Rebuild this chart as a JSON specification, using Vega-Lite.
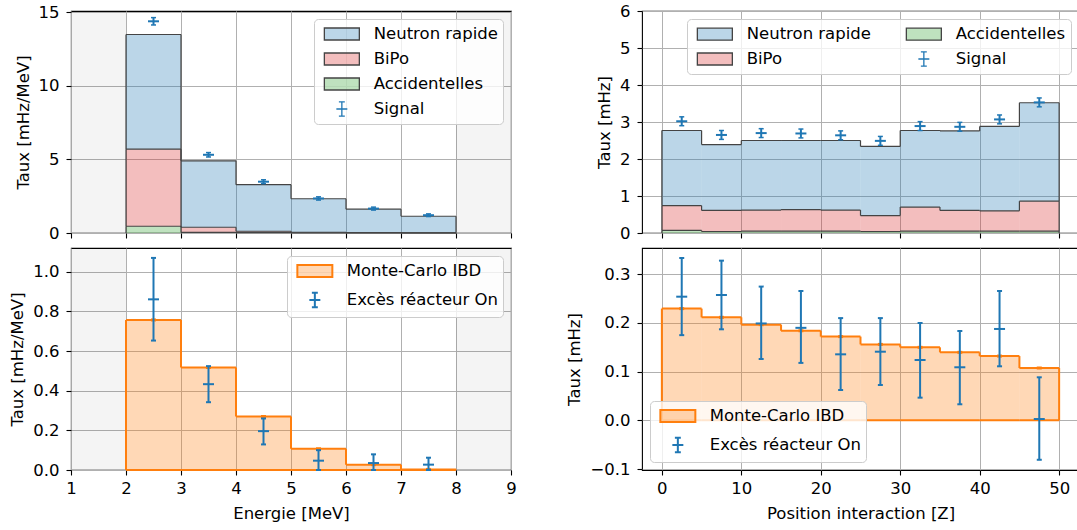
{
  "$schema": "https://vega.github.io/schema/vega-lite/v6.json",
  "background": "white",
  "padding": {"left": 9, "top": 2, "right": 0, "bottom": 0},
  "autosize": {"type": "pad"},
  "datasets": {
    "ltBars": [
      {"series": "Accidentelles", "lo": 2, "hi": 3, "value": 0.46},
      {"series": "BiPo", "lo": 2, "hi": 3, "value": 5.24},
      {"series": "Neutron rapide", "lo": 2, "hi": 3, "value": 7.8},
      {"series": "Accidentelles", "lo": 3, "hi": 4, "value": 0.04},
      {"series": "BiPo", "lo": 3, "hi": 4, "value": 0.35},
      {"series": "Neutron rapide", "lo": 3, "hi": 4, "value": 4.52},
      {"series": "Accidentelles", "lo": 4, "hi": 5, "value": 0.02},
      {"series": "BiPo", "lo": 4, "hi": 5, "value": 0.1},
      {"series": "Neutron rapide", "lo": 4, "hi": 5, "value": 3.17},
      {"series": "Accidentelles", "lo": 5, "hi": 6, "value": 0.01},
      {"series": "BiPo", "lo": 5, "hi": 6, "value": 0.04},
      {"series": "Neutron rapide", "lo": 5, "hi": 6, "value": 2.28},
      {"series": "Accidentelles", "lo": 6, "hi": 7, "value": 0.005},
      {"series": "BiPo", "lo": 6, "hi": 7, "value": 0.02},
      {"series": "Neutron rapide", "lo": 6, "hi": 7, "value": 1.595},
      {"series": "Accidentelles", "lo": 7, "hi": 8, "value": 0.005},
      {"series": "BiPo", "lo": 7, "hi": 8, "value": 0.01},
      {"series": "Neutron rapide", "lo": 7, "hi": 8, "value": 1.125}
    ],
    "ltSig": [
      {"series": "Signal", "E": 2.5, "v": 14.4, "vmin": 14.15, "vmax": 14.65},
      {"series": "Signal", "E": 3.5, "v": 5.32, "vmin": 5.17, "vmax": 5.47},
      {"series": "Signal", "E": 4.5, "v": 3.49, "vmin": 3.36, "vmax": 3.62},
      {"series": "Signal", "E": 5.5, "v": 2.35, "vmin": 2.24, "vmax": 2.46},
      {"series": "Signal", "E": 6.5, "v": 1.66, "vmin": 1.56, "vmax": 1.76},
      {"series": "Signal", "E": 7.5, "v": 1.21, "vmin": 1.12, "vmax": 1.3}
    ],
    "lbMC": [
      {"series": "Monte-Carlo IBD", "lo": 2, "hi": 3, "c": 2.5, "value": 0.757},
      {"series": "Monte-Carlo IBD", "lo": 3, "hi": 4, "c": 3.5, "value": 0.517},
      {"series": "Monte-Carlo IBD", "lo": 4, "hi": 5, "c": 4.5, "value": 0.27},
      {"series": "Monte-Carlo IBD", "lo": 5, "hi": 6, "c": 5.5, "value": 0.107},
      {"series": "Monte-Carlo IBD", "lo": 6, "hi": 7, "c": 6.5, "value": 0.027},
      {"series": "Monte-Carlo IBD", "lo": 7, "hi": 8, "c": 7.5, "value": 0.003}
    ],
    "lbSig": [
      {"series": "Excès réacteur On", "E": 2.5, "v": 0.861, "vmin": 0.653, "vmax": 1.07},
      {"series": "Excès réacteur On", "E": 3.5, "v": 0.433, "vmin": 0.342, "vmax": 0.524},
      {"series": "Excès réacteur On", "E": 4.5, "v": 0.196, "vmin": 0.129, "vmax": 0.26},
      {"series": "Excès réacteur On", "E": 5.5, "v": 0.047, "vmin": 0.0, "vmax": 0.1},
      {"series": "Excès réacteur On", "E": 6.5, "v": 0.035, "vmin": 0.0, "vmax": 0.079},
      {"series": "Excès réacteur On", "E": 7.5, "v": 0.027, "vmin": 0.0, "vmax": 0.062}
    ],
    "rtBars": [
      {"series": "Accidentelles", "lo": 0, "hi": 5, "value": 0.07},
      {"series": "BiPo", "lo": 0, "hi": 5, "value": 0.67},
      {"series": "Neutron rapide", "lo": 0, "hi": 5, "value": 2.03},
      {"series": "Accidentelles", "lo": 5, "hi": 10, "value": 0.04},
      {"series": "BiPo", "lo": 5, "hi": 10, "value": 0.57},
      {"series": "Neutron rapide", "lo": 5, "hi": 10, "value": 1.78},
      {"series": "Accidentelles", "lo": 10, "hi": 15, "value": 0.05},
      {"series": "BiPo", "lo": 10, "hi": 15, "value": 0.57},
      {"series": "Neutron rapide", "lo": 10, "hi": 15, "value": 1.88},
      {"series": "Accidentelles", "lo": 15, "hi": 20, "value": 0.05},
      {"series": "BiPo", "lo": 15, "hi": 20, "value": 0.58},
      {"series": "Neutron rapide", "lo": 15, "hi": 20, "value": 1.87},
      {"series": "Accidentelles", "lo": 20, "hi": 25, "value": 0.05},
      {"series": "BiPo", "lo": 20, "hi": 25, "value": 0.57},
      {"series": "Neutron rapide", "lo": 20, "hi": 25, "value": 1.88},
      {"series": "Accidentelles", "lo": 25, "hi": 30, "value": 0.04},
      {"series": "BiPo", "lo": 25, "hi": 30, "value": 0.43},
      {"series": "Neutron rapide", "lo": 25, "hi": 30, "value": 1.87},
      {"series": "Accidentelles", "lo": 30, "hi": 35, "value": 0.05},
      {"series": "BiPo", "lo": 30, "hi": 35, "value": 0.65},
      {"series": "Neutron rapide", "lo": 30, "hi": 35, "value": 2.07},
      {"series": "Accidentelles", "lo": 35, "hi": 40, "value": 0.05},
      {"series": "BiPo", "lo": 35, "hi": 40, "value": 0.56},
      {"series": "Neutron rapide", "lo": 35, "hi": 40, "value": 2.15},
      {"series": "Accidentelles", "lo": 40, "hi": 45, "value": 0.05},
      {"series": "BiPo", "lo": 40, "hi": 45, "value": 0.55},
      {"series": "Neutron rapide", "lo": 40, "hi": 45, "value": 2.28},
      {"series": "Accidentelles", "lo": 45, "hi": 50, "value": 0.05},
      {"series": "BiPo", "lo": 45, "hi": 50, "value": 0.81},
      {"series": "Neutron rapide", "lo": 45, "hi": 50, "value": 2.66}
    ],
    "rtSig": [
      {"series": "Signal", "Z": 2.5, "v": 3.02, "vmin": 2.9, "vmax": 3.14},
      {"series": "Signal", "Z": 7.5, "v": 2.65, "vmin": 2.53, "vmax": 2.77},
      {"series": "Signal", "Z": 12.5, "v": 2.7, "vmin": 2.58, "vmax": 2.82},
      {"series": "Signal", "Z": 17.5, "v": 2.69, "vmin": 2.57, "vmax": 2.81},
      {"series": "Signal", "Z": 22.5, "v": 2.64, "vmin": 2.52, "vmax": 2.76},
      {"series": "Signal", "Z": 27.5, "v": 2.49, "vmin": 2.37, "vmax": 2.61},
      {"series": "Signal", "Z": 32.5, "v": 2.89, "vmin": 2.77, "vmax": 3.01},
      {"series": "Signal", "Z": 37.5, "v": 2.87, "vmin": 2.75, "vmax": 2.99},
      {"series": "Signal", "Z": 42.5, "v": 3.07, "vmin": 2.95, "vmax": 3.19},
      {"series": "Signal", "Z": 47.5, "v": 3.53, "vmin": 3.41, "vmax": 3.65}
    ],
    "rbMC": [
      {"series": "Monte-Carlo IBD", "lo": 0, "hi": 5, "c": 2.5, "value": 0.2295},
      {"series": "Monte-Carlo IBD", "lo": 5, "hi": 10, "c": 7.5, "value": 0.2116},
      {"series": "Monte-Carlo IBD", "lo": 10, "hi": 15, "c": 12.5, "value": 0.1966},
      {"series": "Monte-Carlo IBD", "lo": 15, "hi": 20, "c": 17.5, "value": 0.184},
      {"series": "Monte-Carlo IBD", "lo": 20, "hi": 25, "c": 22.5, "value": 0.172},
      {"series": "Monte-Carlo IBD", "lo": 25, "hi": 30, "c": 27.5, "value": 0.156},
      {"series": "Monte-Carlo IBD", "lo": 30, "hi": 35, "c": 32.5, "value": 0.15},
      {"series": "Monte-Carlo IBD", "lo": 35, "hi": 40, "c": 37.5, "value": 0.1397},
      {"series": "Monte-Carlo IBD", "lo": 40, "hi": 45, "c": 42.5, "value": 0.132},
      {"series": "Monte-Carlo IBD", "lo": 45, "hi": 50, "c": 47.5, "value": 0.1075}
    ],
    "rbSig": [
      {"series": "Excès réacteur On", "Z": 2.5, "v": 0.254, "vmin": 0.175, "vmax": 0.3335},
      {"series": "Excès réacteur On", "Z": 7.5, "v": 0.2575, "vmin": 0.187, "vmax": 0.328},
      {"series": "Excès réacteur On", "Z": 12.5, "v": 0.199, "vmin": 0.126, "vmax": 0.2747},
      {"series": "Excès réacteur On", "Z": 17.5, "v": 0.19, "vmin": 0.118, "vmax": 0.2657},
      {"series": "Excès réacteur On", "Z": 22.5, "v": 0.1356, "vmin": 0.0623, "vmax": 0.21},
      {"series": "Excès réacteur On", "Z": 27.5, "v": 0.141, "vmin": 0.0726, "vmax": 0.21},
      {"series": "Excès réacteur On", "Z": 32.5, "v": 0.124, "vmin": 0.0466, "vmax": 0.2},
      {"series": "Excès réacteur On", "Z": 37.5, "v": 0.109, "vmin": 0.033, "vmax": 0.1835},
      {"series": "Excès réacteur On", "Z": 42.5, "v": 0.1877, "vmin": 0.111, "vmax": 0.2657},
      {"series": "Excès réacteur On", "Z": 47.5, "v": 0.0027, "vmin": -0.081, "vmax": 0.0884}
    ]
  },
  "spacing": 49,
  "resolve": {"scale": {"fill": "independent", "stroke": "independent", "shape": "independent"}, "legend": {"fill": "independent", "stroke": "independent", "shape": "independent"}},
  "hconcat": [
    {
      "bounds": "flush",
      "spacing": 15,
      "resolve": {"scale": {"fill": "independent", "stroke": "independent", "shape": "independent"}, "legend": {"fill": "independent", "stroke": "independent", "shape": "independent"}},
      "vconcat": [
        {
          "width": 440, "height": 222,
          "data": {"name": "ltBars"},
          "transform": [
            {"stack": "value", "groupby": ["lo"], "sort": [{"field": "series", "order": "ascending"}], "as": ["y0", "y1"]},
            {"window": [{"op": "min", "field": "y1", "as": "ymin"}, {"op": "max", "field": "y1", "as": "ymax"}], "frame": [-1, 0], "groupby": ["series"], "sort": [{"field": "lo", "order": "ascending"}]}
          ],
          "layer": [
            {"data": {"values": [{"a": 1, "b": 2}, {"a": 8, "b": 9}]}, "mark": {"type": "rect", "fill": "rgba(0,0,0,0.045)"},
             "encoding": {"x": {"field": "a", "type": "quantitative", "scale": {"domain": [1, 9], "nice": false, "zero": false}, "axis": {"values": [1, 2, 3, 4, 5, 6, 7, 8, 9], "tickCount": 20, "labels": false, "title": null}}, "x2": {"field": "b"}}},
            {"mark": {"type": "rect"},
             "encoding": {"x": {"field": "lo", "type": "quantitative", "scale": {"domain": [1, 9], "nice": false, "zero": false}}, "x2": {"field": "hi"},
              "y": {"field": "y0", "type": "quantitative", "scale": {"domain": [0, 15.1], "nice": false, "zero": false}, "axis": {"values": [0, 5, 10, 15], "tickCount": 20, "format": "d", "title": "Taux [mHz/MeV]"}}, "y2": {"field": "y1"},
              "fill": {"field": "series", "type": "nominal", "scale": {"domain": ["Neutron rapide", "BiPo", "Accidentelles", "Signal"], "range": ["rgba(31,119,180,0.3)", "rgba(214,39,40,0.3)", "rgba(44,160,44,0.3)", "transparent"]}, "legend": {"title": null, "orient": "top-right", "symbolStrokeWidth": 1.3}}}},
            {"mark": {"type": "rule", "strokeWidth": 1.2},
             "encoding": {"x": {"field": "lo", "type": "quantitative", "scale": {"domain": [1, 9], "nice": false, "zero": false}}, "x2": {"field": "hi"},
              "y": {"field": "y1", "type": "quantitative", "scale": {"domain": [0, 15.1], "nice": false, "zero": false}},
              "stroke": {"field": "series", "type": "nominal", "scale": {"domain": ["Neutron rapide", "BiPo", "Accidentelles", "Signal"], "range": ["#444444", "#444444", "#444444", "#1f77b4"]}, "legend": {"title": null, "orient": "top-right", "symbolStrokeWidth": 1.3}}}},
            {"mark": {"type": "rule", "strokeWidth": 1.2},
             "encoding": {"x": {"field": "lo", "type": "quantitative", "scale": {"domain": [1, 9], "nice": false, "zero": false}},
              "y": {"field": "ymin", "type": "quantitative", "scale": {"domain": [0, 15.1], "nice": false, "zero": false}}, "y2": {"field": "ymax"},
              "stroke": {"field": "series", "type": "nominal"}}},
            {"transform": [{"filter": "datum.lo == 2"}], "mark": {"type": "rule", "strokeWidth": 1.2},
             "encoding": {"x": {"field": "lo", "type": "quantitative", "scale": {"domain": [1, 9], "nice": false, "zero": false}},
              "y": {"field": "y0", "type": "quantitative", "scale": {"domain": [0, 15.1], "nice": false, "zero": false}}, "y2": {"field": "y1"},
              "stroke": {"field": "series", "type": "nominal"}}},
            {"transform": [{"filter": "datum.hi == 8"}], "mark": {"type": "rule", "strokeWidth": 1.2},
             "encoding": {"x": {"field": "hi", "type": "quantitative", "scale": {"domain": [1, 9], "nice": false, "zero": false}},
              "y": {"field": "y0", "type": "quantitative", "scale": {"domain": [0, 15.1], "nice": false, "zero": false}}, "y2": {"field": "y1"},
              "stroke": {"field": "series", "type": "nominal"}}},
            {"data": {"name": "ltSig"}, "mark": {"type": "rule", "strokeWidth": 2},
             "encoding": {"x": {"field": "E", "type": "quantitative", "scale": {"domain": [1, 9], "nice": false, "zero": false}},
              "y": {"field": "vmin", "type": "quantitative", "scale": {"domain": [0, 15.1], "nice": false, "zero": false}}, "y2": {"field": "vmax"},
              "stroke": {"field": "series", "type": "nominal"}}},
            {"data": {"name": "ltSig"}, "mark": {"type": "tick", "orient": "horizontal", "size": 5, "thickness": 1.5, "color": "#1f77b4", "opacity": 1},
             "encoding": {"x": {"field": "E", "type": "quantitative", "scale": {"domain": [1, 9], "nice": false, "zero": false}},
              "y": {"field": "vmin", "type": "quantitative", "scale": {"domain": [0, 15.1], "nice": false, "zero": false}}}},
            {"data": {"name": "ltSig"}, "mark": {"type": "tick", "orient": "horizontal", "size": 5, "thickness": 1.5, "color": "#1f77b4", "opacity": 1},
             "encoding": {"x": {"field": "E", "type": "quantitative", "scale": {"domain": [1, 9], "nice": false, "zero": false}},
              "y": {"field": "vmax", "type": "quantitative", "scale": {"domain": [0, 15.1], "nice": false, "zero": false}}}},
            {"data": {"name": "ltSig"}, "mark": {"type": "tick", "orient": "horizontal", "size": 11, "thickness": 2, "color": "#1f77b4", "opacity": 1},
             "encoding": {"x": {"field": "E", "type": "quantitative", "scale": {"domain": [1, 9], "nice": false, "zero": false}},
              "y": {"field": "v", "type": "quantitative", "scale": {"domain": [0, 15.1], "nice": false, "zero": false}}}},
            {"data": {"name": "ltSig"}, "mark": {"type": "point", "opacity": 0, "filled": true},
             "encoding": {"x": {"field": "E", "type": "quantitative", "scale": {"domain": [1, 9], "nice": false, "zero": false}},
              "y": {"field": "v", "type": "quantitative", "scale": {"domain": [0, 15.1], "nice": false, "zero": false}},
              "fill": {"field": "series", "type": "nominal"},
              "stroke": {"field": "series", "type": "nominal"},
              "shape": {"field": "series", "type": "nominal", "scale": {"domain": ["Neutron rapide", "BiPo", "Accidentelles", "Signal"], "range": ["M-1.944,-0.667H1.944V0.667H-1.944Z", "M-1.944,-0.667H1.944V0.667H-1.944Z", "M-1.944,-0.667H1.944V0.667H-1.944Z", "M0,-0.8V0.8M-0.61,0H0.61M-0.33,-0.8H0.33M-0.33,0.8H0.33"]}, "legend": {"title": null, "orient": "top-right", "symbolStrokeWidth": 1.3}}}}
          ]
        },
        {
          "width": 440, "height": 222,
          "data": {"name": "lbMC"},
          "transform": [
            {"window": [{"op": "min", "field": "value", "as": "ymin"}, {"op": "max", "field": "value", "as": "ymax"}], "frame": [-1, 0], "sort": [{"field": "lo", "order": "ascending"}]}
          ],
          "layer": [
            {"data": {"values": [{"a": 1, "b": 2}, {"a": 8, "b": 9}]}, "mark": {"type": "rect", "fill": "rgba(0,0,0,0.045)"},
             "encoding": {"x": {"field": "a", "type": "quantitative", "scale": {"domain": [1, 9], "nice": false, "zero": false}, "axis": {"values": [1, 2, 3, 4, 5, 6, 7, 8, 9], "tickCount": 20, "format": "d", "title": "Energie [MeV]"}}, "x2": {"field": "b"}}},
            {"mark": {"type": "rect"},
             "encoding": {"x": {"field": "lo", "type": "quantitative", "scale": {"domain": [1, 9], "nice": false, "zero": false}}, "x2": {"field": "hi"},
              "y": {"field": "value", "type": "quantitative", "scale": {"domain": [0, 1.12], "nice": false, "zero": false}, "axis": {"values": [0, 0.2, 0.4, 0.6, 0.8, 1.0], "tickCount": 20, "format": ".1f", "title": "Taux [mHz/MeV]"}}, "y2": {"datum": 0},
              "fill": {"field": "series", "type": "nominal", "scale": {"domain": ["Monte-Carlo IBD", "Excès réacteur On"], "range": ["rgba(255,127,14,0.3)", "transparent"]}, "legend": {"title": null, "orient": "top-right", "symbolStrokeWidth": 2}}}},
            {"mark": {"type": "rule", "strokeWidth": 2},
             "encoding": {"x": {"field": "lo", "type": "quantitative", "scale": {"domain": [1, 9], "nice": false, "zero": false}}, "x2": {"field": "hi"},
              "y": {"field": "value", "type": "quantitative", "scale": {"domain": [0, 1.12], "nice": false, "zero": false}},
              "stroke": {"field": "series", "type": "nominal", "scale": {"domain": ["Monte-Carlo IBD", "Excès réacteur On"], "range": ["#ff7f0e", "#1f77b4"]}, "legend": {"title": null, "orient": "top-right", "symbolStrokeWidth": 2}}}},
            {"mark": {"type": "rule", "strokeWidth": 2},
             "encoding": {"x": {"field": "lo", "type": "quantitative", "scale": {"domain": [1, 9], "nice": false, "zero": false}}, "x2": {"field": "hi"},
              "y": {"datum": 0, "type": "quantitative", "scale": {"domain": [0, 1.12], "nice": false, "zero": false}},
              "stroke": {"field": "series", "type": "nominal"}}},
            {"mark": {"type": "rule", "strokeWidth": 2},
             "encoding": {"x": {"field": "lo", "type": "quantitative", "scale": {"domain": [1, 9], "nice": false, "zero": false}},
              "y": {"field": "ymin", "type": "quantitative", "scale": {"domain": [0, 1.12], "nice": false, "zero": false}}, "y2": {"field": "ymax"},
              "stroke": {"field": "series", "type": "nominal"}}},
            {"transform": [{"filter": "datum.lo == 2"}], "mark": {"type": "rule", "strokeWidth": 2},
             "encoding": {"x": {"field": "lo", "type": "quantitative", "scale": {"domain": [1, 9], "nice": false, "zero": false}},
              "y": {"field": "value", "type": "quantitative", "scale": {"domain": [0, 1.12], "nice": false, "zero": false}}, "y2": {"datum": 0},
              "stroke": {"field": "series", "type": "nominal"}}},
            {"transform": [{"filter": "datum.hi == 8"}], "mark": {"type": "rule", "strokeWidth": 2},
             "encoding": {"x": {"field": "hi", "type": "quantitative", "scale": {"domain": [1, 9], "nice": false, "zero": false}},
              "y": {"field": "value", "type": "quantitative", "scale": {"domain": [0, 1.12], "nice": false, "zero": false}}, "y2": {"datum": 0},
              "stroke": {"field": "series", "type": "nominal"}}},
            {"mark": {"type": "tick", "orient": "horizontal", "size": 5, "thickness": 3, "color": "#ff7f0e", "opacity": 1},
             "encoding": {"x": {"field": "c", "type": "quantitative", "scale": {"domain": [1, 9], "nice": false, "zero": false}},
              "y": {"field": "value", "type": "quantitative", "scale": {"domain": [0, 1.12], "nice": false, "zero": false}}}},
            {"data": {"name": "lbSig"}, "mark": {"type": "rule", "strokeWidth": 2},
             "encoding": {"x": {"field": "E", "type": "quantitative", "scale": {"domain": [1, 9], "nice": false, "zero": false}},
              "y": {"field": "vmin", "type": "quantitative", "scale": {"domain": [0, 1.12], "nice": false, "zero": false}}, "y2": {"field": "vmax"},
              "stroke": {"field": "series", "type": "nominal"}}},
            {"data": {"name": "lbSig"}, "mark": {"type": "tick", "orient": "horizontal", "size": 5, "thickness": 2, "color": "#1f77b4", "opacity": 1},
             "encoding": {"x": {"field": "E", "type": "quantitative", "scale": {"domain": [1, 9], "nice": false, "zero": false}},
              "y": {"field": "vmin", "type": "quantitative", "scale": {"domain": [0, 1.12], "nice": false, "zero": false}}}},
            {"data": {"name": "lbSig"}, "mark": {"type": "tick", "orient": "horizontal", "size": 5, "thickness": 2, "color": "#1f77b4", "opacity": 1},
             "encoding": {"x": {"field": "E", "type": "quantitative", "scale": {"domain": [1, 9], "nice": false, "zero": false}},
              "y": {"field": "vmax", "type": "quantitative", "scale": {"domain": [0, 1.12], "nice": false, "zero": false}}}},
            {"data": {"name": "lbSig"}, "mark": {"type": "tick", "orient": "horizontal", "size": 11, "thickness": 2, "color": "#1f77b4", "opacity": 1},
             "encoding": {"x": {"field": "E", "type": "quantitative", "scale": {"domain": [1, 9], "nice": false, "zero": false}},
              "y": {"field": "v", "type": "quantitative", "scale": {"domain": [0, 1.12], "nice": false, "zero": false}}}},
            {"data": {"name": "lbSig"}, "mark": {"type": "point", "opacity": 0, "filled": true},
             "encoding": {"x": {"field": "E", "type": "quantitative", "scale": {"domain": [1, 9], "nice": false, "zero": false}},
              "y": {"field": "v", "type": "quantitative", "scale": {"domain": [0, 1.12], "nice": false, "zero": false}},
              "fill": {"field": "series", "type": "nominal"},
              "stroke": {"field": "series", "type": "nominal"},
              "shape": {"field": "series", "type": "nominal", "scale": {"domain": ["Monte-Carlo IBD", "Excès réacteur On"], "range": ["M-1.944,-0.667H1.944V0.667H-1.944Z", "M0,-0.8V0.8M-0.61,0H0.61M-0.33,-0.8H0.33M-0.33,0.8H0.33"]}, "legend": {"title": null, "orient": "top-right", "symbolStrokeWidth": 2}}}}
          ]
        }
      ]
    },
    {
      "bounds": "flush",
      "spacing": 15,
      "resolve": {"scale": {"fill": "independent", "stroke": "independent", "shape": "independent"}, "legend": {"fill": "independent", "stroke": "independent", "shape": "independent"}},
      "vconcat": [
        {
          "width": 437, "height": 222,
          "data": {"name": "rtBars"},
          "transform": [
            {"stack": "value", "groupby": ["lo"], "sort": [{"field": "series", "order": "ascending"}], "as": ["y0", "y1"]},
            {"window": [{"op": "min", "field": "y1", "as": "ymin"}, {"op": "max", "field": "y1", "as": "ymax"}], "frame": [-1, 0], "groupby": ["series"], "sort": [{"field": "lo", "order": "ascending"}]}
          ],
          "layer": [
            {"mark": {"type": "rect"},
             "encoding": {"x": {"field": "lo", "type": "quantitative", "scale": {"domain": [-2.5, 52.5], "nice": false, "zero": false}, "axis": {"values": [0, 10, 20, 30, 40, 50], "tickCount": 20, "labels": false, "title": null}}, "x2": {"field": "hi"},
              "y": {"field": "y0", "type": "quantitative", "scale": {"domain": [0, 6], "nice": false, "zero": false}, "axis": {"values": [0, 1, 2, 3, 4, 5, 6], "tickCount": 20, "format": "d", "title": "Taux [mHz]"}}, "y2": {"field": "y1"},
              "fill": {"field": "series", "type": "nominal", "scale": {"domain": ["Neutron rapide", "BiPo", "Accidentelles", "Signal"], "range": ["rgba(31,119,180,0.3)", "rgba(214,39,40,0.3)", "rgba(44,160,44,0.3)", "transparent"]}, "legend": {"title": null, "orient": "top-right", "columns": 2, "columnPadding": 30, "symbolStrokeWidth": 1.3}}}},
            {"mark": {"type": "rule", "strokeWidth": 1.2},
             "encoding": {"x": {"field": "lo", "type": "quantitative", "scale": {"domain": [-2.5, 52.5], "nice": false, "zero": false}}, "x2": {"field": "hi"},
              "y": {"field": "y1", "type": "quantitative", "scale": {"domain": [0, 6], "nice": false, "zero": false}},
              "stroke": {"field": "series", "type": "nominal", "scale": {"domain": ["Neutron rapide", "BiPo", "Accidentelles", "Signal"], "range": ["#444444", "#444444", "#444444", "#1f77b4"]}, "legend": {"title": null, "orient": "top-right", "columns": 2, "columnPadding": 30, "symbolStrokeWidth": 1.3}}}},
            {"mark": {"type": "rule", "strokeWidth": 1.2},
             "encoding": {"x": {"field": "lo", "type": "quantitative", "scale": {"domain": [-2.5, 52.5], "nice": false, "zero": false}},
              "y": {"field": "ymin", "type": "quantitative", "scale": {"domain": [0, 6], "nice": false, "zero": false}}, "y2": {"field": "ymax"},
              "stroke": {"field": "series", "type": "nominal"}}},
            {"transform": [{"filter": "datum.lo == 0"}], "mark": {"type": "rule", "strokeWidth": 1.2},
             "encoding": {"x": {"field": "lo", "type": "quantitative", "scale": {"domain": [-2.5, 52.5], "nice": false, "zero": false}},
              "y": {"field": "y0", "type": "quantitative", "scale": {"domain": [0, 6], "nice": false, "zero": false}}, "y2": {"field": "y1"},
              "stroke": {"field": "series", "type": "nominal"}}},
            {"transform": [{"filter": "datum.hi == 50"}], "mark": {"type": "rule", "strokeWidth": 1.2},
             "encoding": {"x": {"field": "hi", "type": "quantitative", "scale": {"domain": [-2.5, 52.5], "nice": false, "zero": false}},
              "y": {"field": "y0", "type": "quantitative", "scale": {"domain": [0, 6], "nice": false, "zero": false}}, "y2": {"field": "y1"},
              "stroke": {"field": "series", "type": "nominal"}}},
            {"data": {"name": "rtSig"}, "mark": {"type": "rule", "strokeWidth": 2},
             "encoding": {"x": {"field": "Z", "type": "quantitative", "scale": {"domain": [-2.5, 52.5], "nice": false, "zero": false}},
              "y": {"field": "vmin", "type": "quantitative", "scale": {"domain": [0, 6], "nice": false, "zero": false}}, "y2": {"field": "vmax"},
              "stroke": {"field": "series", "type": "nominal"}}},
            {"data": {"name": "rtSig"}, "mark": {"type": "tick", "orient": "horizontal", "size": 5, "thickness": 1.5, "color": "#1f77b4", "opacity": 1},
             "encoding": {"x": {"field": "Z", "type": "quantitative", "scale": {"domain": [-2.5, 52.5], "nice": false, "zero": false}},
              "y": {"field": "vmin", "type": "quantitative", "scale": {"domain": [0, 6], "nice": false, "zero": false}}}},
            {"data": {"name": "rtSig"}, "mark": {"type": "tick", "orient": "horizontal", "size": 5, "thickness": 1.5, "color": "#1f77b4", "opacity": 1},
             "encoding": {"x": {"field": "Z", "type": "quantitative", "scale": {"domain": [-2.5, 52.5], "nice": false, "zero": false}},
              "y": {"field": "vmax", "type": "quantitative", "scale": {"domain": [0, 6], "nice": false, "zero": false}}}},
            {"data": {"name": "rtSig"}, "mark": {"type": "tick", "orient": "horizontal", "size": 11, "thickness": 2, "color": "#1f77b4", "opacity": 1},
             "encoding": {"x": {"field": "Z", "type": "quantitative", "scale": {"domain": [-2.5, 52.5], "nice": false, "zero": false}},
              "y": {"field": "v", "type": "quantitative", "scale": {"domain": [0, 6], "nice": false, "zero": false}}}},
            {"data": {"name": "rtSig"}, "mark": {"type": "point", "opacity": 0, "filled": true},
             "encoding": {"x": {"field": "Z", "type": "quantitative", "scale": {"domain": [-2.5, 52.5], "nice": false, "zero": false}},
              "y": {"field": "v", "type": "quantitative", "scale": {"domain": [0, 6], "nice": false, "zero": false}},
              "fill": {"field": "series", "type": "nominal"},
              "stroke": {"field": "series", "type": "nominal"},
              "shape": {"field": "series", "type": "nominal", "scale": {"domain": ["Neutron rapide", "BiPo", "Accidentelles", "Signal"], "range": ["M-1.944,-0.667H1.944V0.667H-1.944Z", "M-1.944,-0.667H1.944V0.667H-1.944Z", "M-1.944,-0.667H1.944V0.667H-1.944Z", "M0,-0.8V0.8M-0.61,0H0.61M-0.33,-0.8H0.33M-0.33,0.8H0.33"]}, "legend": {"title": null, "orient": "top-right", "columns": 2, "columnPadding": 30, "symbolStrokeWidth": 1.3}}}}
          ]
        },
        {
          "width": 437, "height": 222,
          "data": {"name": "rbMC"},
          "transform": [
            {"window": [{"op": "min", "field": "value", "as": "ymin"}, {"op": "max", "field": "value", "as": "ymax"}], "frame": [-1, 0], "sort": [{"field": "lo", "order": "ascending"}]}
          ],
          "layer": [
            {"mark": {"type": "rect"},
             "encoding": {"x": {"field": "lo", "type": "quantitative", "scale": {"domain": [-2.5, 52.5], "nice": false, "zero": false}, "axis": {"values": [0, 10, 20, 30, 40, 50], "tickCount": 20, "format": "d", "title": "Position interaction [Z]"}}, "x2": {"field": "hi"},
              "y": {"field": "value", "type": "quantitative", "scale": {"domain": [-0.102, 0.354], "nice": false, "zero": false}, "axis": {"values": [-0.1, 0, 0.1, 0.2, 0.3], "tickCount": 20, "format": ".1f", "title": "Taux [mHz]"}}, "y2": {"datum": 0},
              "fill": {"field": "series", "type": "nominal", "scale": {"domain": ["Monte-Carlo IBD", "Excès réacteur On"], "range": ["rgba(255,127,14,0.3)", "transparent"]}, "legend": {"title": null, "orient": "bottom-left", "symbolStrokeWidth": 2}}}},
            {"mark": {"type": "rule", "strokeWidth": 2},
             "encoding": {"x": {"field": "lo", "type": "quantitative", "scale": {"domain": [-2.5, 52.5], "nice": false, "zero": false}}, "x2": {"field": "hi"},
              "y": {"field": "value", "type": "quantitative", "scale": {"domain": [-0.102, 0.354], "nice": false, "zero": false}},
              "stroke": {"field": "series", "type": "nominal", "scale": {"domain": ["Monte-Carlo IBD", "Excès réacteur On"], "range": ["#ff7f0e", "#1f77b4"]}, "legend": {"title": null, "orient": "bottom-left", "symbolStrokeWidth": 2}}}},
            {"mark": {"type": "rule", "strokeWidth": 2},
             "encoding": {"x": {"field": "lo", "type": "quantitative", "scale": {"domain": [-2.5, 52.5], "nice": false, "zero": false}}, "x2": {"field": "hi"},
              "y": {"datum": 0, "type": "quantitative", "scale": {"domain": [-0.102, 0.354], "nice": false, "zero": false}},
              "stroke": {"field": "series", "type": "nominal"}}},
            {"mark": {"type": "rule", "strokeWidth": 2},
             "encoding": {"x": {"field": "lo", "type": "quantitative", "scale": {"domain": [-2.5, 52.5], "nice": false, "zero": false}},
              "y": {"field": "ymin", "type": "quantitative", "scale": {"domain": [-0.102, 0.354], "nice": false, "zero": false}}, "y2": {"field": "ymax"},
              "stroke": {"field": "series", "type": "nominal"}}},
            {"transform": [{"filter": "datum.lo == 0"}], "mark": {"type": "rule", "strokeWidth": 2},
             "encoding": {"x": {"field": "lo", "type": "quantitative", "scale": {"domain": [-2.5, 52.5], "nice": false, "zero": false}},
              "y": {"field": "value", "type": "quantitative", "scale": {"domain": [-0.102, 0.354], "nice": false, "zero": false}}, "y2": {"datum": 0},
              "stroke": {"field": "series", "type": "nominal"}}},
            {"transform": [{"filter": "datum.hi == 50"}], "mark": {"type": "rule", "strokeWidth": 2},
             "encoding": {"x": {"field": "hi", "type": "quantitative", "scale": {"domain": [-2.5, 52.5], "nice": false, "zero": false}},
              "y": {"field": "value", "type": "quantitative", "scale": {"domain": [-0.102, 0.354], "nice": false, "zero": false}}, "y2": {"datum": 0},
              "stroke": {"field": "series", "type": "nominal"}}},
            {"mark": {"type": "tick", "orient": "horizontal", "size": 5, "thickness": 3, "color": "#ff7f0e", "opacity": 1},
             "encoding": {"x": {"field": "c", "type": "quantitative", "scale": {"domain": [-2.5, 52.5], "nice": false, "zero": false}},
              "y": {"field": "value", "type": "quantitative", "scale": {"domain": [-0.102, 0.354], "nice": false, "zero": false}}}},
            {"data": {"name": "rbSig"}, "mark": {"type": "rule", "strokeWidth": 2},
             "encoding": {"x": {"field": "Z", "type": "quantitative", "scale": {"domain": [-2.5, 52.5], "nice": false, "zero": false}},
              "y": {"field": "vmin", "type": "quantitative", "scale": {"domain": [-0.102, 0.354], "nice": false, "zero": false}}, "y2": {"field": "vmax"},
              "stroke": {"field": "series", "type": "nominal"}}},
            {"data": {"name": "rbSig"}, "mark": {"type": "tick", "orient": "horizontal", "size": 5, "thickness": 2, "color": "#1f77b4", "opacity": 1},
             "encoding": {"x": {"field": "Z", "type": "quantitative", "scale": {"domain": [-2.5, 52.5], "nice": false, "zero": false}},
              "y": {"field": "vmin", "type": "quantitative", "scale": {"domain": [-0.102, 0.354], "nice": false, "zero": false}}}},
            {"data": {"name": "rbSig"}, "mark": {"type": "tick", "orient": "horizontal", "size": 5, "thickness": 2, "color": "#1f77b4", "opacity": 1},
             "encoding": {"x": {"field": "Z", "type": "quantitative", "scale": {"domain": [-2.5, 52.5], "nice": false, "zero": false}},
              "y": {"field": "vmax", "type": "quantitative", "scale": {"domain": [-0.102, 0.354], "nice": false, "zero": false}}}},
            {"data": {"name": "rbSig"}, "mark": {"type": "tick", "orient": "horizontal", "size": 11, "thickness": 2, "color": "#1f77b4", "opacity": 1},
             "encoding": {"x": {"field": "Z", "type": "quantitative", "scale": {"domain": [-2.5, 52.5], "nice": false, "zero": false}},
              "y": {"field": "v", "type": "quantitative", "scale": {"domain": [-0.102, 0.354], "nice": false, "zero": false}}}},
            {"data": {"name": "rbSig"}, "mark": {"type": "point", "opacity": 0, "filled": true},
             "encoding": {"x": {"field": "Z", "type": "quantitative", "scale": {"domain": [-2.5, 52.5], "nice": false, "zero": false}},
              "y": {"field": "v", "type": "quantitative", "scale": {"domain": [-0.102, 0.354], "nice": false, "zero": false}},
              "fill": {"field": "series", "type": "nominal"},
              "stroke": {"field": "series", "type": "nominal"},
              "shape": {"field": "series", "type": "nominal", "scale": {"domain": ["Monte-Carlo IBD", "Excès réacteur On"], "range": ["M-1.944,-0.667H1.944V0.667H-1.944Z", "M0,-0.8V0.8M-0.61,0H0.61M-0.33,-0.8H0.33M-0.33,0.8H0.33"]}, "legend": {"title": null, "orient": "bottom-left", "symbolStrokeWidth": 2}}}}
          ]
        }
      ]
    }
  ],
  "config": {
    "font": "DejaVu Sans",
    "view": {"stroke": "black", "strokeWidth": 1.1},
    "axis": {
      "domain": false, "grid": true, "gridColor": "#b0b0b0", "gridWidth": 1,
      "tickColor": "black", "tickWidth": 1.1, "tickSize": 5,
      "labelFont": "DejaVu Sans", "labelFontSize": 16.5, "labelColor": "black",
      "labelFlush": false, "labelOverlap": false,
      "titleFont": "DejaVu Sans", "titleFontSize": 16.5, "titleFontWeight": "normal", "titleColor": "black", "titlePadding": 7
    },
    "axisX": {"labelPadding": 5, "titlePadding": 9},
    "axisY": {"labelPadding": 7},
    "legend": {
      "labelFont": "DejaVu Sans", "labelFontSize": 16.5, "labelColor": "black", "labelLimit": 400,
      "fillColor": "rgba(255,255,255,0.8)", "strokeColor": "#cccccc", "cornerRadius": 4, "padding": 5,
      "symbolSize": 324, "symbolOffset": 12.85, "labelOffset": 21.85, "rowPadding": 6, "offset": 8,
      "symbolFillColor": "transparent", "symbolStrokeColor": "transparent", "symbolOpacity": 1
    }
  }
}
